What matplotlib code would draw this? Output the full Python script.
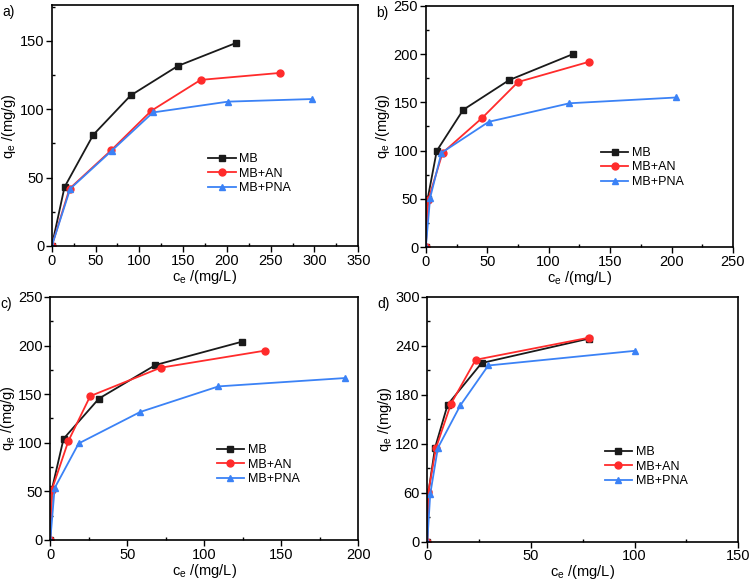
import matplotlib
matplotlib.use("Agg")
import matplotlib.pyplot as plt
from matplotlib.ticker import MultipleLocator

plt.rcParams['font.family'] = ['Liberation Sans', 'DejaVu Sans']

series_names = ["MB", "MB+AN", "MB+PNA"]

# Panel a
a_mb_x = [0, 14.5, 47.3, 90, 144, 210]
a_mb_y = [0, 43, 81.2, 110, 131.6, 148.3]
a_an_x = [0, 20.2, 67.9, 113.6, 170, 260.8]
a_an_y = [0, 41.8, 70, 98.8, 121.4, 126.5]
a_pna_x = [0, 21, 68.6, 115.5, 201.3, 297.4]
a_pna_y = [0, 41.8, 69.7, 97.6, 105.5, 107.4]

# Panel b
b_mb_x = [0, 1.5, 8.9, 30.4, 67.8, 119.8]
b_mb_y = [0, 50, 99.7, 142.2, 173, 200]
b_an_x = [0, 2, 13.6, 46, 75, 132.9]
b_an_y = [0, 49, 97.6, 134, 171, 192]
b_pna_x = [0, 3.5, 12.7, 51.2, 116.9, 203.9]
b_pna_y = [0, 51, 97.6, 129.8, 149, 155]

# Panel c
c_mb_x = [0, 1, 8.6, 31.6, 68.3, 124.8]
c_mb_y = [0, 52, 104.1, 145.5, 180, 204.1]
c_an_x = [0, 1, 11.7, 25.9, 71.6, 139.5]
c_an_y = [0, 51.7, 101.7, 148, 177.2, 194.8]
c_pna_x = [0, 2.8, 18.4, 58.4, 109.2, 191.6]
c_pna_y = [0, 53.4, 99.3, 131.7, 158, 166.6]

# Panel d
d_mb_x = [0, 0.5, 3.7, 9.8, 26.2, 78.1]
d_mb_y = [0, 60, 115, 168, 219, 249]
d_an_x = [0, 0.5, 4.2, 11.4, 23.3, 77.8]
d_an_y = [0, 61, 115, 169, 223, 250]
d_pna_x = [0, 1.4, 5.1, 15.9, 29.4, 100.2]
d_pna_y = [0, 58.4, 115, 167, 216, 234]

colors = ["#1a1a1a", "#ff2b2b", "#3b82f6"]
markers = ["s", "o", "^"]

fig = plt.figure(figsize=(7.51, 5.80), dpi=100)

panels = [
    dict(rect=[0.069, 0.576, 0.408, 0.415], lab="a)",
         data=[(a_mb_x, a_mb_y), (a_an_x, a_an_y), (a_pna_x, a_pna_y)],
         xlim=(0, 350), ylim=(0, 176), xmaj=50, xmin=25, ymaj=50, ymin=25,
         leg=(0.51, 0.30)),
    dict(rect=[0.567, 0.574, 0.409, 0.416], lab="b)",
         data=[(b_mb_x, b_mb_y), (b_an_x, b_an_y), (b_pna_x, b_pna_y)],
         xlim=(0, 250), ylim=(0, 250), xmaj=50, xmin=25, ymaj=50, ymin=25,
         leg=(0.57, 0.33)),
    dict(rect=[0.067, 0.069, 0.410, 0.419], lab="c)",
         data=[(c_mb_x, c_mb_y), (c_an_x, c_an_y), (c_pna_x, c_pna_y)],
         xlim=(0, 200), ylim=(0, 250), xmaj=50, xmin=25, ymaj=50, ymin=25,
         leg=(0.54, 0.31)),
    dict(rect=[0.569, 0.066, 0.414, 0.422], lab="d)",
         data=[(d_mb_x, d_mb_y), (d_an_x, d_an_y), (d_pna_x, d_pna_y)],
         xlim=(0, 150), ylim=(0, 300), xmaj=50, xmin=25, ymaj=60, ymin=30,
         leg=(0.57, 0.306)),
]

for p in panels:
    ax = fig.add_axes(p["rect"])
    for (x, y), c, m, name in zip(p["data"], colors, markers, series_names):
        ax.plot(x, y, color=c, marker=m, markersize=5, linewidth=1.3, label=name)
    ax.set_xlim(*p["xlim"])
    ax.set_ylim(*p["ylim"])
    ax.xaxis.set_major_locator(MultipleLocator(p["xmaj"]))
    ax.xaxis.set_minor_locator(MultipleLocator(p["xmin"]))
    ax.yaxis.set_major_locator(MultipleLocator(p["ymaj"]))
    ax.yaxis.set_minor_locator(MultipleLocator(p["ymin"]))
    ax.tick_params(which="major", direction="out", length=4, width=1, labelsize=10.5, pad=1.5)
    ax.tick_params(which="minor", direction="in", length=2.5, width=1)
    for s in ax.spines.values():
        s.set_linewidth(1.2)
    ax.set_xlabel("c$_\\mathregular{e}$ /(mg/L)", fontsize=10.5, labelpad=0)
    ax.set_ylabel("q$_\\mathregular{e}$ /(mg/g)", fontsize=10.5, labelpad=1)
    ax.legend(loc="center left", bbox_to_anchor=p["leg"], frameon=False,
              fontsize=9, handlelength=2.2, labelspacing=0.2, handletextpad=0.3,
              borderpad=0, borderaxespad=0)
    r = p["rect"]
    fig.text(r[0] - 0.066, r[1] + r[3] - 0.012, p["lab"], fontsize=10, va="center", ha="left")

fig.savefig("out.png", dpi=100)
